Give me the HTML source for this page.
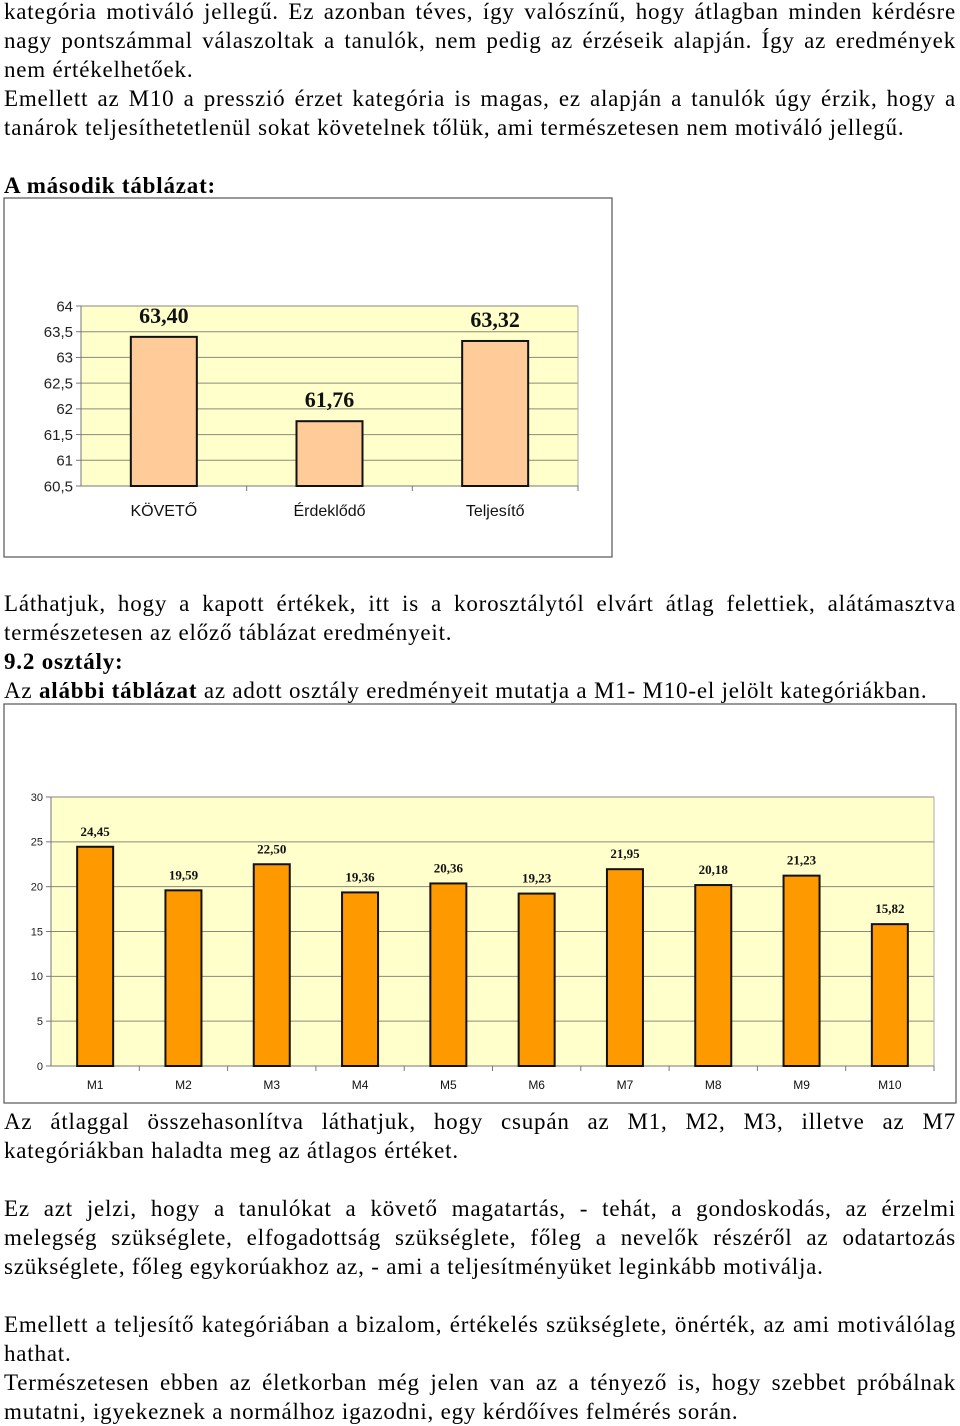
<!DOCTYPE html>
<html><head><meta charset="utf-8">
<style>
body{margin:0;width:960px;height:1424px;position:relative;background:#fff;overflow:hidden;font-family:"Liberation Serif",serif;font-size:23px;letter-spacing:0.8px;color:#000}
.l{position:absolute;left:4px;width:952px;height:29px;line-height:29px;white-space:nowrap}
.j{text-align:justify;text-align-last:justify;white-space:normal}
svg{position:absolute;left:0;top:0;letter-spacing:0}
</style></head><body>
<div class="l j" style="top:-3px">kategória motiváló jellegű. Ez azonban téves, így valószínű, hogy átlagban minden kérdésre</div>
<div class="l j" style="top:26px">nagy pontszámmal válaszoltak a tanulók, nem pedig az érzéseik alapján. Így az eredmények</div>
<div class="l" style="top:55px">nem értékelhetőek.</div>
<div class="l j" style="top:84px">Emellett az M10 a presszió érzet kategória is magas, ez alapján a tanulók úgy érzik, hogy a</div>
<div class="l" style="top:113px">tanárok teljesíthetetlenül sokat követelnek tőlük, ami természetesen nem motiváló jellegű.</div>
<div class="l" style="top:171px;font-weight:bold">A második táblázat:</div>
<div class="l j" style="top:589px">Láthatjuk, hogy a kapott értékek, itt is a korosztálytól elvárt átlag felettiek, alátámasztva</div>
<div class="l" style="top:618px">természetesen az előző táblázat eredményeit.</div>
<div class="l" style="top:647px;font-weight:bold">9.2 osztály:</div>
<div class="l" style="top:676px">Az <b>alábbi táblázat</b> az adott osztály eredményeit mutatja a M1- M10-el jelölt kategóriákban.</div>
<div class="l j" style="top:1107px">Az átlaggal összehasonlítva láthatjuk, hogy csupán az M1, M2, M3, illetve az M7</div>
<div class="l" style="top:1136px">kategóriákban haladta meg az átlagos értéket.</div>
<div class="l j" style="top:1194px">Ez azt jelzi, hogy a tanulókat a követő magatartás, - tehát, a gondoskodás, az érzelmi</div>
<div class="l j" style="top:1223px">melegség szükséglete, elfogadottság szükséglete, főleg a nevelők részéről az odatartozás</div>
<div class="l" style="top:1252px">szükséglete, főleg egykorúakhoz az, - ami a teljesítményüket leginkább motiválja.</div>
<div class="l j" style="top:1310px">Emellett a teljesítő kategóriában a bizalom, értékelés szükséglete, önérték, az ami motiválólag</div>
<div class="l" style="top:1339px">hathat.</div>
<div class="l j" style="top:1368px">Természetesen ebben az életkorban még jelen van az a tényező is, hogy szebbet próbálnak</div>
<div class="l" style="top:1397px">mutatni, igyekeznek a normálhoz igazodni, egy kérdőíves felmérés során.</div>

<svg id="c1" width="960" height="1424"></svg>
<svg id="c2" width="960" height="1424"></svg>

<script>
const cats1 = ["KÖVETŐ","Érdeklődő","Teljesítő"];
const vals1 = [63.40, 61.76, 63.32];
const labels1 = ["63,40","61,76","63,32"];
const ticks1 = [60.5,61,61.5,62,62.5,63,63.5,64];
const tickLabels1 = ["60,5","61","61,5","62","62,5","63","63,5","64"];

const cats2 = ["M1","M2","M3","M4","M5","M6","M7","M8","M9","M10"];
const vals2 = [24.45,19.59,22.50,19.36,20.36,19.23,21.95,20.18,21.23,15.82];
const labels2 = ["24,45","19,59","22,50","19,36","20,36","19,23","21,95","20,18","21,23","15,82"];
const ticks2 = [0,5,10,15,20,25,30];
const tickLabels2 = ["0","5","10","15","20","25","30"];

const NS="http://www.w3.org/2000/svg";
function mk(svg,tag,attrs,text){const e=document.createElementNS(NS,tag);for(const k in attrs)e.setAttribute(k,attrs[k]);if(text!==undefined)e.textContent=text;svg.appendChild(e);return e;}

function drawChart(svg,o){
  const frame=mk(svg,'rect',{x:o.fx,y:o.fy,width:o.fw,height:o.fh,fill:'none',stroke:'#555','stroke-width':1.2});
  
  
  const Y=v=>o.y0-(v-o.min)/(o.max-o.min)*(o.y0-o.y1);
  const bg=mk(svg,'rect',{x:o.x0,y:o.y1,width:o.x1-o.x0,height:o.y0-o.y1,fill:'#ffffcc'});
  
  
  o.ticks.forEach((t,i)=>{
    const g=mk(svg,'line',{x1:o.x0,x2:o.x1,y1:Y(t),y2:Y(t),stroke:'#8a8a7a','stroke-width':1});
    
    
    mk(svg,'line',{x1:o.x0-5,x2:o.x0,y1:Y(t),y2:Y(t),stroke:'#777'});
    const tl=mk(svg,'text',{x:o.x0-8,y:Y(t)+o.tfs*0.35,'text-anchor':'end','font-family':'Liberation Sans, sans-serif','font-size':o.tfs,fill:'#222'},o.tickLabels[i]);
    
    
  });
  mk(svg,'line',{x1:o.x0,x2:o.x0,y1:o.y1,y2:o.y0,stroke:'#777'});
  mk(svg,'line',{x1:o.x1,x2:o.x1,y1:o.y1,y2:o.y0,stroke:'#aaa'});
  mk(svg,'line',{x1:o.x0,x2:o.x1,y1:o.y0,y2:o.y0,stroke:'#777'});
  const cw=(o.x1-o.x0)/o.cats.length;
  o.cats.forEach((c,i)=>{
    mk(svg,'line',{x1:o.x0+cw*(i+1),x2:o.x0+cw*(i+1),y1:o.y0,y2:o.y0+5,stroke:'#777'});
    const cx=o.x0+cw*(i+0.5);
    const top=Y(o.vals[i]);
    const b=mk(svg,'rect',{x:cx-o.bw/2,y:top,width:o.bw,height:o.y0-top,fill:o.fill,stroke:'#111','stroke-width':2});
    
    
    const vl=mk(svg,'text',{x:cx,y:top-o.vOff,'text-anchor':'middle','font-family':'Liberation Serif, serif','font-weight':'bold','font-size':o.vfs,fill:'#111'},o.labels[i]);
    
    
    const xl=mk(svg,'text',{x:cx,y:o.catY,'text-anchor':'middle','font-family':'Liberation Sans, sans-serif','font-size':o.cfs,fill:'#111'},c);
    
    
  });
}
drawChart(document.getElementById('c1'),{fx:4,fy:198,fw:608,fh:359,x0:81,x1:578,y0:486,y1:306,min:60.5,max:64,
  ticks:ticks1,tickLabels:tickLabels1,cats:cats1,vals:vals1,labels:labels1,bw:66,fill:'#ffcc99',vOff:14,vfs:22,tfs:15,cfs:16,catY:516});
drawChart(document.getElementById('c2'),{fx:4,fy:704,fw:952,fh:399,x0:51,x1:934,y0:1066,y1:797,min:0,max:30,
  ticks:ticks2,tickLabels:tickLabels2,cats:cats2,vals:vals2,labels:labels2,bw:36,fill:'#ff9900',vOff:11,vfs:13,tfs:11,cfs:12,catY:1089});
</script>
</body></html>
